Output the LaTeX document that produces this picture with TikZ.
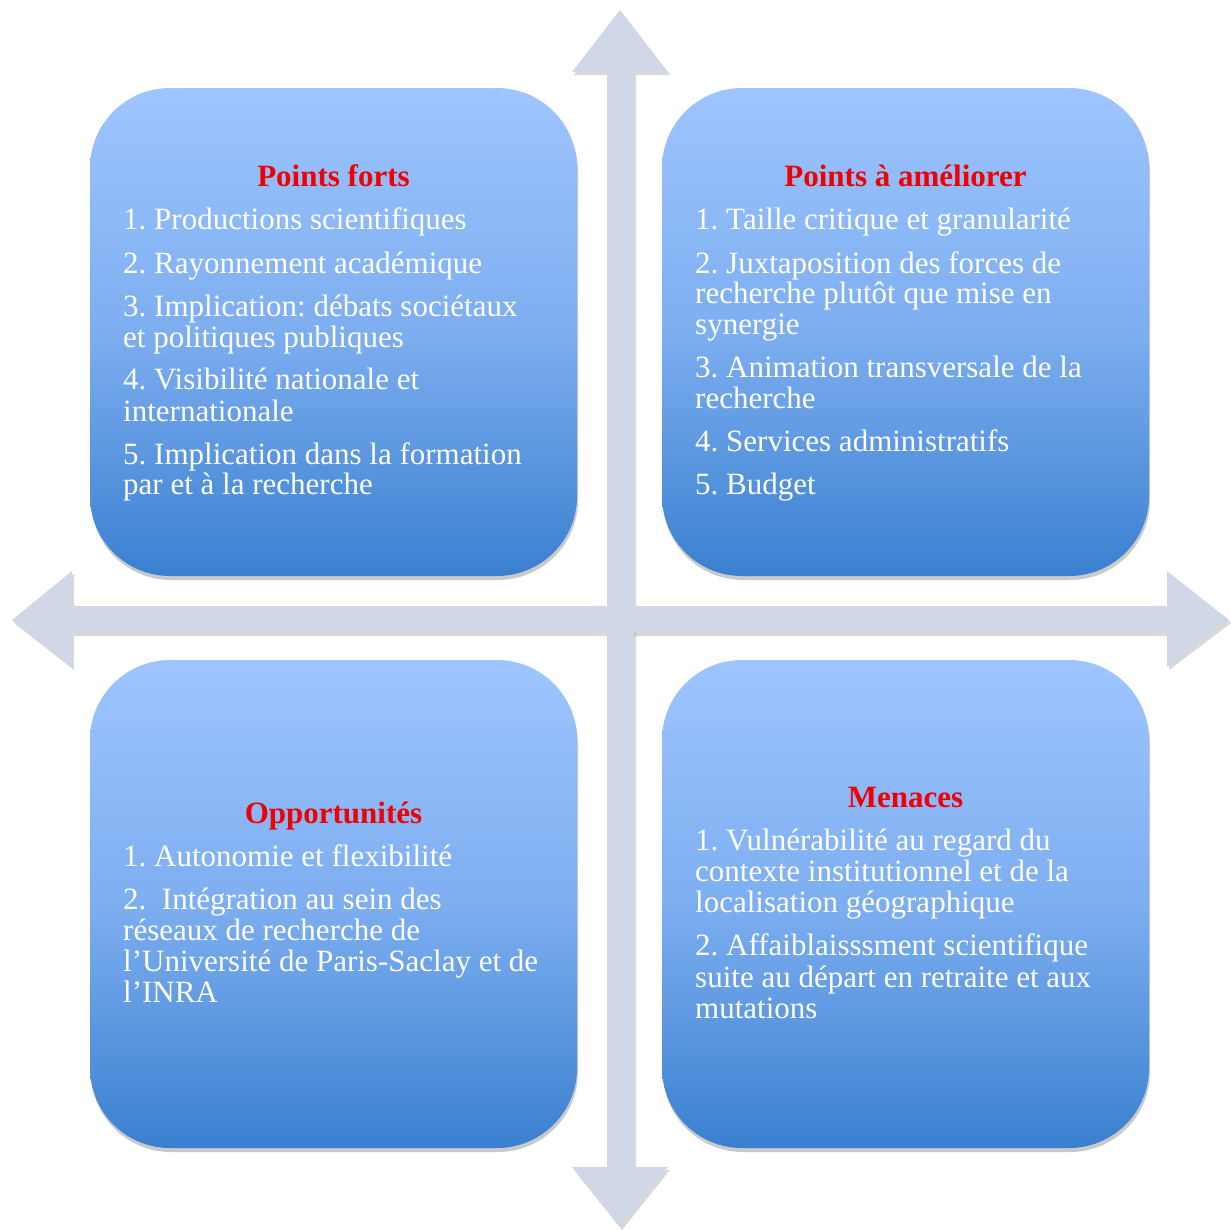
\documentclass[tikz,border=0pt]{standalone}
\usepackage{fontspec}
\setmainfont{Liberation Serif}
\usetikzlibrary{shadows}
\frenchspacing
\definecolor{arrowfill}{RGB}{208,216,232}
\definecolor{boxtop}{RGB}{158,197,255}
\definecolor{boxmid}{RGB}{125,174,240}
\definecolor{boxbot}{RGB}{58,128,208}
\definecolor{titlered}{RGB}{240,0,0}
\tikzset{
  qbox/.style={rectangle, rounded corners=80pt, minimum width=487pt, minimum height=488pt,
    top color=boxtop, bottom color=boxbot, middle color=boxmid, draw=none,
    drop shadow={opacity=0.35, shadow xshift=1pt, shadow yshift=-4pt, fill=black!60}},
  arrowshape/.style={fill=arrowfill, draw=none,
    drop shadow={opacity=0.3, shadow xshift=2pt, shadow yshift=-3pt, fill=black!50}},
  ttl/.style={anchor=base, text=titlered, font=\fontsize{31}{31}\selectfont\bfseries, inner sep=0pt},
  txt/.style={anchor=base west, text=white, font=\fontsize{31}{31}\selectfont\frenchspacing, inner sep=0pt}
}
\begin{document}
\begin{tikzpicture}[x=1pt,y=-1pt]
\useasboundingbox (0,0) rectangle (1231,1229);
% arrows
\path[arrowshape] (620,10) -- (668,72) -- (634,72) -- (634,1167) -- (668,1167) -- (620,1227)
  -- (572,1167) -- (607,1167) -- (607,72) -- (572,72) -- cycle;
\path[arrowshape] (12,620) -- (72,571) -- (72,606) -- (1167,606) -- (1167,571) -- (1229,620)
  -- (1167,667) -- (1167,633) -- (72,633) -- (72,667) -- cycle;
\fill[arrowfill] (607,600) rectangle (634,640);
% boxes
\node[qbox] (tl) at (333.5,332) {};
\node[qbox] (tr) at (905.5,332) {};
\node[qbox] (bl) at (333.5,904) {};
\node[qbox] (br) at (905.5,904) {};
% top left
\node[ttl] (tlt) at (333.5,186) {Points forts};
\node[txt] (tl1) at (123,229) {1. Productions scientifiques};
\node[txt] (tl2) at (123,273) {2. Rayonnement académique};
\node[txt] (tl3a) at (123,316) {3. Implication: débats sociétaux};
\node[txt] (tl3b) at (123,347) {et politiques publiques};
\node[txt] (tl4a) at (123,389) {4. Visibilité nationale et};
\node[txt] (tl4b) at (123,421) {internationale};
\node[txt] (tl5a) at (123,464) {5. Implication dans la formation};
\node[txt] (tl5b) at (123,494) {par et à la recherche};
% top right
\node[ttl] (trt) at (905.5,186) {Points à améliorer};
\node[txt] (tr1) at (695,229) {1. Taille critique et granularité};
\node[txt] (tr2a) at (695,273) {2. Juxtaposition des forces de};
\node[txt] (tr2b) at (695,303) {recherche plutôt que mise en};
\node[txt] (tr2c) at (695,334) {synergie};
\node[txt] (tr3a) at (695,377) {3. Animation transversale de la};
\node[txt] (tr3b) at (695,408) {recherche};
\node[txt] (tr4) at (695,451) {4. Services administratifs};
\node[txt] (tr5) at (695,494) {5. Budget};
% bottom left
\node[ttl] (blt) at (333.5,823) {Opportunités};
\node[txt] (bl1) at (123,866) {1. Autonomie et flexibilité};
\node[txt] (bl2a) at (123,909) {2.\ \ Intégration au sein des};
\node[txt] (bl2b) at (123,940) {réseaux de recherche de};
\node[txt] (bl2c) at (123,971) {l’Université de Paris-Saclay et de};
\node[txt] (bl2d) at (123,1002) {l’INRA};
% bottom right
\node[ttl] (brt) at (905.5,807) {Menaces};
\node[txt] (br1a) at (695,850) {1. Vulnérabilité au regard du};
\node[txt] (br1b) at (695,881) {contexte institutionnel et de la};
\node[txt] (br1c) at (695,912) {localisation géographique};
\node[txt] (br2a) at (695,955) {2. Affaiblaisssment scientifique};
\node[txt] (br2b) at (695,987) {suite au départ en retraite et aux};
\node[txt] (br2c) at (695,1018) {mutations};
\end{tikzpicture}
\end{document}
